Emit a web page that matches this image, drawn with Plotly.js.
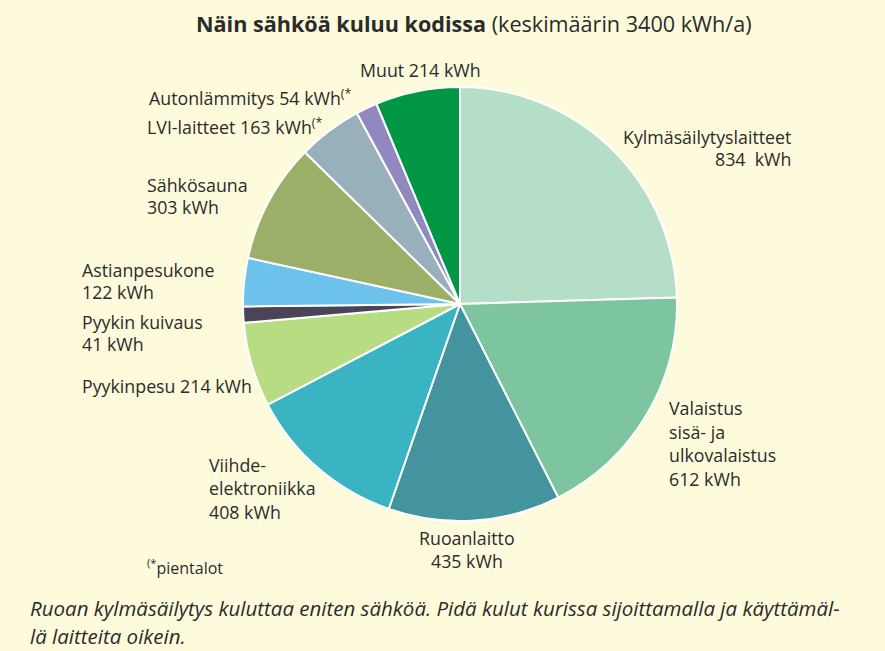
<!DOCTYPE html>
<html>
<head>
<meta charset="utf-8">
<script src="https://cdn.plot.ly/plotly-3.0.1.min.js"></script>
<style>html,body{margin:0;padding:0;background:#fefbdc;}#chart{width:885px;height:651px;}</style>
</head>
<body>
<div id="chart"></div>
<script>
const categories = ["Kylmäsäilytyslaitteet","Valaistus sisä- ja ulkovalaistus","Ruoanlaitto","Viihde-elektroniikka","Pyykinpesu","Pyykin kuivaus","Astianpesukone","Sähkösauna","LVI-laitteet","Autonlämmitys","Muut"];
const values = [834, 612, 435, 408, 214, 41, 122, 303, 163, 54, 214];
const colors = ["#b5dec9","#7dc5a0","#43949e","#3ab3c3","#b7dc82","#4a4458","#6cc2ea","#9caf68","#98b0bc","#9188c0","#009644"];
const labelLines = [
  ["Kylmäsäilytyslaitteet","834  kWh"],
  ["Valaistus","sisä- ja","ulkovalaistus","612 kWh"],
  ["Ruoanlaitto","435 kWh"],
  ["Viihde-","elektroniikka","408 kWh"],
  ["Pyykinpesu 214 kWh"],
  ["Pyykin kuivaus","41 kWh"],
  ["Astianpesukone","122 kWh"],
  ["Sähkösauna","303 kWh"],
  ["LVI-laitteet 163 kWh<sup>(*</sup>"],
  ["Autonlämmitys 54 kWh<sup>(*</sup>"],
  ["Muut 214 kWh"]
];
const titleBold = "Näin sähköä kuluu kodissa";
const titleRest = "(keskimäärin 3400 kWh/a)";
const footnote = "<sup>(*</sup>pientalot";
const caption = ["Ruoan kylmäsäilytys kuluttaa eniten sähköä. Pidä kulut kurissa sijoittamalla ja käyttämäl-","lä laitteita oikein."];

const W = 885, H = 651;
const cx = 460, cy = 304, r = 217;
const FONT = "'Open Sans', Lato, sans-serif";
const TXT = "#2b2b2b";

// label placement: [x px, first-line y px (center), align, line spacing]
const place = [
  [793, 137, "right", 22],
  [667, 408, "left", 23.5],
  [467, 538, "center", 23],
  [207, 465, "left", 23.5],
  [80, 386, "left", 22],
  [80, 322, "left", 22],
  [80, 270, "left", 22],
  [145, 185, "left", 22],
  [145, 126, "left", 22],
  [147, 98, "left", 22],
  [358, 70, "left", 22]
];

const annotations = [];
function addText(text, x, y, anchor, size, extra) {
  annotations.push(Object.assign({
    text: text, xref: "paper", yref: "paper",
    x: x / W, y: 1 - y / H, xanchor: anchor, yanchor: "middle",
    showarrow: false, font: {family: FONT, size: size, color: TXT}
  }, extra || {}));
}
labelLines.forEach((lines, i) => {
  const p = place[i];
  lines.forEach((ln, j) => addText(ln, p[0], p[1] + j * p[3], p[2], 17.8));
});
addText("<b>" + titleBold + "</b> " + titleRest, 474, 24, "center", 21.6);
addText(footnote, 145, 567, "left", 16);
caption.forEach((ln, j) => addText("<i>" + ln + "</i>", 28, 608 + j * 28, "left", 20.5));

const data = [{
  type: "pie",
  labels: categories,
  values: values,
  sort: false,
  direction: "clockwise",
  rotation: 0,
  textinfo: "none",
  hoverinfo: "label+value",
  marker: {colors: colors, line: {color: "#ffffff", width: 2}},
  domain: {x: [(cx - r) / W, (cx + r) / W], y: [(H - cy - r) / H, (H - cy + r) / H]},
  showlegend: false
}];
const layout = {
  width: W, height: H,
  margin: {l: 0, r: 0, t: 0, b: 0},
  paper_bgcolor: "#fefbdc",
  plot_bgcolor: "#fefbdc",
  showlegend: false,
  annotations: annotations
};
Plotly.newPlot("chart", data, layout, {displayModeBar: false, staticPlot: true});
</script>
</body>
</html>
